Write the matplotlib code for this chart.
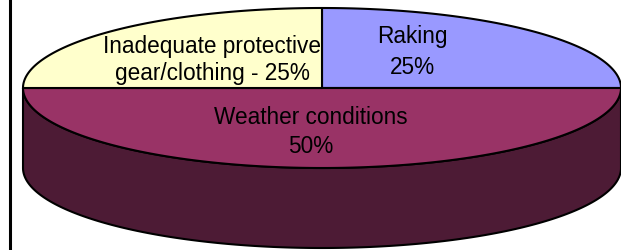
import matplotlib.pyplot as plt
import numpy as np
from matplotlib.patches import Polygon

# Datos del grafico
etiquetas = ['Raking', 'Weather conditions', 'Inadequate protective\ngear/clothing']
valores = [25, 50, 25]
separadores = ['\n', '\n', ' - ']
colores = ['#9999FF', '#993366', '#FFFFCC']
colores_lado = ['#4D4D80', '#4D1B35', '#80806A']

# Geometria del pastel 3D (en pixeles)
cx, cy = 322, 88
a, b = 299, 80
prof = 80
pos_etiquetas = [(412, 52), (311, 132), (212, 60)]
espaciado = [1.4, 1.35, 1.25]

fig = plt.figure(figsize=(6.21, 2.5), dpi=100)
ax = fig.add_axes([0, 0, 1, 1])
ax.set_xlim(0, 621)
ax.set_ylim(250, 0)
ax.axis('off')

total = sum(valores)
fracs = np.array(valores) / total
bordes = 90 - np.concatenate([[0], np.cumsum(fracs)]) * 360


def arco(t1, t2, dy=0, n=200):
    t = np.radians(np.linspace(t1, t2, n))
    return np.column_stack([cx + a * np.cos(t), cy + dy - b * np.sin(t)])


# Lados (solo la mitad frontal, angulos entre -180 y 0)
for i in range(len(valores)):
    t1, t2 = bordes[i], bordes[i + 1]
    lo, hi = max(min(t1, t2), -180), min(max(t1, t2), 0)
    if hi - lo <= 0:
        lo, hi = max(min(t1, t2) + 360, -180), min(max(t1, t2) + 360, 0)
        if hi - lo <= 0:
            continue
    arriba = arco(hi, lo)
    abajo = arco(lo, hi, dy=prof)
    ax.add_patch(Polygon(np.vstack([arriba, abajo]), closed=True,
                         facecolor=colores_lado[i], edgecolor='black', lw=1.5,
                         joinstyle='round'))

# Caras superiores
for i in range(len(valores)):
    pts = np.vstack([[cx, cy], arco(bordes[i], bordes[i + 1])])
    ax.add_patch(Polygon(pts, closed=True, facecolor=colores[i],
                         edgecolor='black', lw=1.5, joinstyle='round'))

# Etiquetas
for i in range(len(valores)):
    texto = etiquetas[i] + separadores[i] + '%d%%' % round(fracs[i] * 100)
    x, y = pos_etiquetas[i]
    ax.text(x, y, texto, ha='center', va='center', fontsize=16.3,
            family='Liberation Sans', color='black', linespacing=espaciado[i])

# Borde izquierdo del area
ax.axvline(10, color='black', lw=2.2)

fig.savefig('out.png', dpi=100)
